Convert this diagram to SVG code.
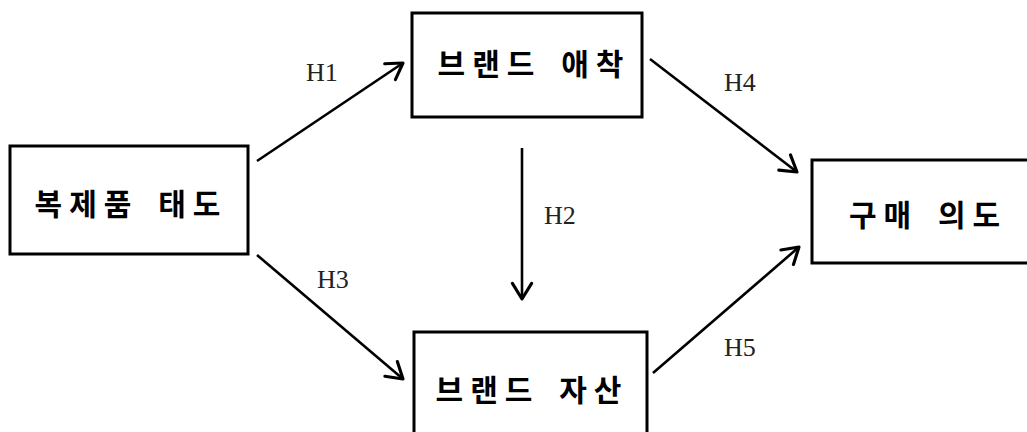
<svg xmlns="http://www.w3.org/2000/svg" width="1027" height="432" viewBox="0 0 1027 432">
<defs>
<style>
.box{fill:#fff;stroke:#000;stroke-width:3}
.nt{font-family:"Noto Sans CJK KR","Noto Sans CJK SC",sans-serif;font-weight:bold;font-size:30px;letter-spacing:7px;word-spacing:6px;fill:#000;text-anchor:middle;dominant-baseline:central}
.lb{font-family:"Liberation Serif",serif;font-size:26px;fill:#222}
.ar{fill:none;stroke:#000;stroke-width:2.6;marker-end:url(#ah)}
</style>
<marker id="ah" markerUnits="userSpaceOnUse" markerWidth="24" markerHeight="24" viewBox="-18 -10 20 20" refX="0" refY="0" orient="auto">
<path d="M-13,-8 L0,0 L-13,8" fill="none" stroke="#000" stroke-width="2.6" stroke-linecap="round" stroke-linejoin="round"/>
</marker>
</defs>
<rect width="1027" height="432" fill="#fff"/>
<g id="connectors">
<line class="ar" x1="257" y1="161" x2="403" y2="63"/>
<line class="ar" x1="650" y1="59" x2="797" y2="172"/>
<line class="ar" x1="522" y1="148" x2="522" y2="299"/>
<line class="ar" x1="257" y1="255" x2="403" y2="379"/>
<line class="ar" x1="653" y1="373" x2="799" y2="247"/>
<text class="lb" x="306" y="81">H1</text>
<text class="lb" x="724" y="91">H4</text>
<text class="lb" x="544" y="224">H2</text>
<text class="lb" x="317" y="288">H3</text>
<text class="lb" x="724" y="356">H5</text>
</g>
<g id="node-attitude">
<rect class="box" x="10" y="146" width="238" height="108"/>
<text class="nt" x="131" y="202">복제품 태도</text>
</g>
<g id="node-attachment">
<rect class="box" x="412" y="13" width="230" height="104"/>
<text class="nt" x="534" y="62">브랜드 애착</text>
</g>
<g id="node-equity">
<rect class="box" x="414" y="332" width="233" height="110"/>
<text class="nt" x="532" y="388">브랜드 자산</text>
</g>
<g id="node-intention">
<rect class="box" x="812" y="160" width="230" height="103"/>
<text class="nt" x="928" y="213">구매 의도</text>
</g>
</svg>
